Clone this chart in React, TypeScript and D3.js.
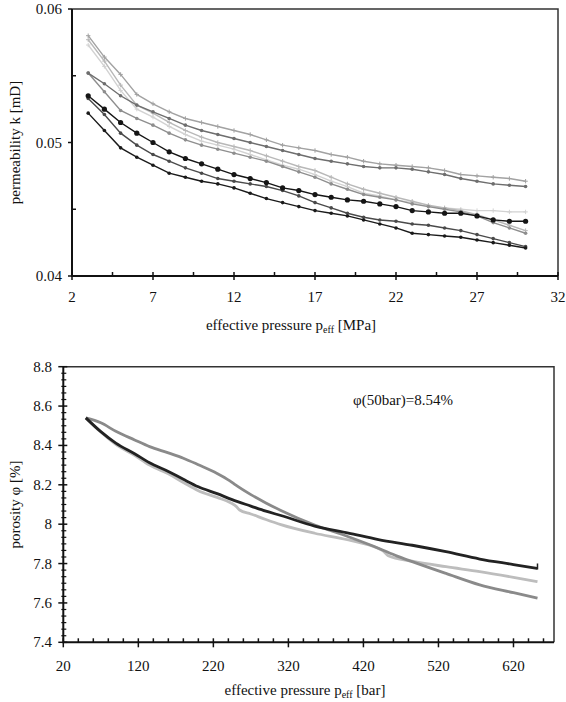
import React, { useRef, useEffect } from "react";
import * as d3 from "d3";

// top chart: permeability vs effective pressure [MPa]
const pressureMPa = [3, 4, 5, 6, 7, 8, 9, 10, 11, 12, 13, 14, 15, 16, 17, 18, 19, 20, 21, 22, 23, 24, 25, 26, 27, 28, 29, 30];
const kA = [0.0580, 0.0564, 0.0551, 0.0536, 0.0529, 0.0523, 0.0518, 0.0515, 0.0512, 0.0509, 0.0506, 0.0502, 0.0498, 0.0496, 0.0494, 0.0491, 0.0489, 0.0486, 0.0484, 0.0483, 0.0482, 0.0481, 0.0479, 0.0476, 0.0475, 0.0474, 0.0473, 0.0471];
const kB = [0.0552, 0.0544, 0.0535, 0.0528, 0.0523, 0.0518, 0.0513, 0.0509, 0.0506, 0.0503, 0.0500, 0.0497, 0.0494, 0.0491, 0.0488, 0.0486, 0.0484, 0.0482, 0.0481, 0.0481, 0.0480, 0.0478, 0.0476, 0.0473, 0.0471, 0.0469, 0.0468, 0.0467];
const kC = [0.0577, 0.0561, 0.0543, 0.0528, 0.0522, 0.0515, 0.0509, 0.0504, 0.0500, 0.0497, 0.0494, 0.0490, 0.0486, 0.0482, 0.0479, 0.0474, 0.0469, 0.0465, 0.0462, 0.0459, 0.0456, 0.0453, 0.0451, 0.0449, 0.0446, 0.0442, 0.0438, 0.0434];
const kD = [0.0552, 0.0538, 0.0524, 0.0518, 0.0513, 0.0507, 0.0502, 0.0498, 0.0495, 0.0492, 0.0489, 0.0486, 0.0482, 0.0478, 0.0474, 0.0469, 0.0465, 0.0461, 0.0459, 0.0457, 0.0454, 0.0452, 0.0450, 0.0448, 0.0445, 0.0440, 0.0436, 0.0432];
const kE = [0.0573, 0.0557, 0.0539, 0.0525, 0.0519, 0.0512, 0.0506, 0.0501, 0.0498, 0.0495, 0.0491, 0.0487, 0.0483, 0.0480, 0.0476, 0.0471, 0.0467, 0.0462, 0.0460, 0.0457, 0.0455, 0.0452, 0.0451, 0.0450, 0.0449, 0.0449, 0.0448, 0.0448];
const kF = [0.0535, 0.0525, 0.0515, 0.0507, 0.0500, 0.0493, 0.0488, 0.0484, 0.0480, 0.0476, 0.0473, 0.0470, 0.0466, 0.0464, 0.0461, 0.0459, 0.0457, 0.0456, 0.0454, 0.0452, 0.0449, 0.0448, 0.0447, 0.0447, 0.0445, 0.0442, 0.0441, 0.0441];
const kG = [0.0533, 0.0521, 0.0507, 0.0498, 0.0491, 0.0486, 0.0481, 0.0477, 0.0473, 0.0471, 0.0469, 0.0467, 0.0464, 0.0460, 0.0455, 0.0451, 0.0447, 0.0444, 0.0442, 0.0441, 0.0439, 0.0438, 0.0436, 0.0434, 0.0431, 0.0428, 0.0425, 0.0422];
const kH = [0.0522, 0.0509, 0.0496, 0.0489, 0.0483, 0.0477, 0.0474, 0.0471, 0.0469, 0.0466, 0.0462, 0.0458, 0.0455, 0.0452, 0.0449, 0.0447, 0.0445, 0.0442, 0.0439, 0.0436, 0.0432, 0.0431, 0.0430, 0.0429, 0.0427, 0.0425, 0.0423, 0.0421];
const xTicksMPa = [2, 7, 12, 17, 22, 27, 32];
const yTicksK = [0.04, 0.05, 0.06];

// bottom chart: porosity vs effective pressure [bar]
const pBlack = [50, 70, 90, 115, 135, 160, 180, 200, 225, 245, 270, 290, 310, 355, 400, 440, 485, 530, 575, 620, 652];
const phiBlack = [8.54, 8.47, 8.412, 8.358, 8.312, 8.268, 8.228, 8.19, 8.155, 8.125, 8.092, 8.066, 8.044, 7.99, 7.955, 7.922, 7.893, 7.86, 7.823, 7.795, 7.775];
const pGrey = [50, 70, 90, 115, 135, 160, 180, 200, 225, 242, 250, 270, 290, 310, 355, 400, 440, 465, 485, 530, 575, 620, 652];
const phiGrey = [8.54, 8.515, 8.472, 8.428, 8.394, 8.362, 8.335, 8.302, 8.258, 8.22, 8.198, 8.15, 8.108, 8.07, 7.996, 7.936, 7.878, 7.838, 7.81, 7.75, 7.692, 7.652, 7.624];
const pLight = [50, 70, 90, 115, 135, 160, 180, 200, 225, 245, 250, 255, 270, 290, 310, 355, 400, 440, 447, 453, 485, 530, 575, 620, 652];
const phiLight = [8.54, 8.468, 8.405, 8.35, 8.3, 8.256, 8.212, 8.17, 8.136, 8.105, 8.092, 8.072, 8.052, 8.024, 7.998, 7.954, 7.92, 7.876, 7.862, 7.84, 7.812, 7.784, 7.759, 7.73, 7.708];
const xTicksBar = [20, 120, 220, 320, 420, 520, 620];
const yTicksPhi = [7.4, 7.6, 7.8, 8, 8.2, 8.4, 8.6, 8.8];

const FONT = "'Liberation Serif', 'Times New Roman', serif";

const App = () => {
  const svgRef = useRef<SVGSVGElement>(null);

  useEffect(() => {
    const svg = d3.select(svgRef.current);
    svg.selectAll("*").remove();

    const text = (x: number, y: number, s: string, anchor = "middle") =>
      svg.append("text")
        .attr("x", x).attr("y", y)
        .attr("text-anchor", anchor)
        .attr("font-family", FONT)
        .attr("font-size", 15)
        .attr("fill", "#111")
        .text(s);

    // ---------- top chart ----------
    const x1 = d3.scaleLinear().domain([2, 32]).range([72, 558]);
    const y1 = d3.scaleLinear().domain([0.04, 0.06]).range([276, 9]);

    const series = [
      { v: kE, color: "#d2d2d2", marker: "plus" },
      { v: kC, color: "#b8b8b8", marker: "plus" },
      { v: kA, color: "#a2a2a2", marker: "plus" },
      { v: kD, color: "#8e8e8e", marker: "dot" },
      { v: kB, color: "#6e6e6e", marker: "dot" },
      { v: kG, color: "#4a4a4a", marker: "dot" },
      { v: kH, color: "#1a1a1a", marker: "dot" },
      { v: kF, color: "#151515", marker: "big" },
    ];

    const line1 = d3.line<number>()
      .x((d, i) => x1(pressureMPa[i]))
      .y(d => y1(d));

    series.forEach(s => {
      svg.append("path")
        .datum(s.v)
        .attr("fill", "none")
        .attr("stroke", s.color)
        .attr("stroke-width", 1.4)
        .attr("d", line1);
      const g = svg.append("g");
      s.v.forEach((d, i) => {
        const cx = x1(pressureMPa[i]);
        const cy = y1(d);
        if (s.marker === "plus") {
          g.append("path")
            .attr("d", `M${cx - 2.2},${cy}H${cx + 2.2}M${cx},${cy - 2.2}V${cy + 2.2}`)
            .attr("stroke", s.color).attr("stroke-width", 1);
        } else {
          g.append("circle")
            .attr("cx", cx).attr("cy", cy)
            .attr("r", s.marker === "big" ? 2.6 : 1.8)
            .attr("fill", s.color);
        }
      });
    });

    // frame
    svg.append("path")
      .attr("d", `M${x1(2)},${y1(0.06)}H${x1(32)}V${y1(0.04)}`)
      .attr("fill", "none").attr("stroke", "#333").attr("stroke-width", 1.5);
    svg.append("path")
      .attr("d", `M${x1(2)},${y1(0.06)}V${y1(0.04)}H${x1(32)}`)
      .attr("fill", "none").attr("stroke", "#111").attr("stroke-width", 2);

    xTicksMPa.forEach(t => {
      svg.append("line")
        .attr("x1", x1(t)).attr("x2", x1(t))
        .attr("y1", y1(0.04) - 4).attr("y2", y1(0.04) + 4)
        .attr("stroke", "#111").attr("stroke-width", 1.5);
      if (t < 32) {
        svg.append("line")
          .attr("x1", x1(t + 2.5)).attr("x2", x1(t + 2.5))
          .attr("y1", y1(0.04) - 4).attr("y2", y1(0.04))
          .attr("stroke", "#111").attr("stroke-width", 1.5);
      }
      text(x1(t), 302, String(t));
    });
    yTicksK.forEach(t => {
      svg.append("line")
        .attr("x1", x1(2) - 4).attr("x2", x1(2))
        .attr("y1", y1(t)).attr("y2", y1(t))
        .attr("stroke", "#111").attr("stroke-width", 1.5);
      if (t < 0.06) {
        svg.append("line")
          .attr("x1", x1(2)).attr("x2", x1(2) + 4)
          .attr("y1", y1(t + 0.005)).attr("y2", y1(t + 0.005))
          .attr("stroke", "#111").attr("stroke-width", 1.5);
      }
      text(62, y1(t) + 5, t.toFixed(2), "end");
    });

    const xt1 = text(291, 330, "effective pressure p");
    xt1.append("tspan").attr("font-size", 10).attr("dy", 3).text("eff");
    xt1.append("tspan").attr("dy", -3).text(" [MPa]");
    text(0, 0, "permeability k [mD]")
      .attr("transform", `translate(20,${(y1(0.04) + y1(0.06)) / 2}) rotate(-90)`);

    // ---------- bottom chart ----------
    const x2 = d3.scaleLinear().domain([20, 674]).range([63.3, 554]);
    const y2 = d3.scaleLinear().domain([7.4, 8.8]).range([642.3, 366.7]);

    const curves = [
      { p: pLight, v: phiLight, color: "#bdbdbd" },
      { p: pGrey, v: phiGrey, color: "#8a8a8a" },
      { p: pBlack, v: phiBlack, color: "#222" },
    ];
    curves.forEach(c => {
      const line2 = d3.line<number>()
        .x((d, i) => x2(c.p[i]))
        .y(d => y2(d))
        .curve(d3.curveMonotoneX);
      svg.append("path")
        .datum(c.v)
        .attr("fill", "none")
        .attr("stroke", c.color)
        .attr("stroke-width", 2.8)
        .attr("stroke-linejoin", "round")
        .attr("d", line2);
    });
    // end mark of black curve
    const lastX = x2(pBlack[pBlack.length - 1]);
    const lastY = y2(phiBlack[phiBlack.length - 1]);
    svg.append("line")
      .attr("x1", lastX).attr("x2", lastX)
      .attr("y1", lastY - 5).attr("y2", lastY + 1)
      .attr("stroke", "#222").attr("stroke-width", 1.5);

    svg.append("path")
      .attr("d", `M${x2(20)},${y2(8.8)}H${x2(674)}V${y2(7.4)}`)
      .attr("fill", "none").attr("stroke", "#333").attr("stroke-width", 1.5);
    svg.append("path")
      .attr("d", `M${x2(20)},${y2(8.8)}V${y2(7.4)}H${x2(674)}`)
      .attr("fill", "none").attr("stroke", "#111").attr("stroke-width", 2);

    xTicksBar.forEach(t => {
      svg.append("line")
        .attr("x1", x2(t)).attr("x2", x2(t))
        .attr("y1", y2(7.4) - 4).attr("y2", y2(7.4) + 5)
        .attr("stroke", "#111").attr("stroke-width", 1.5);
      [20, 40, 60, 80].forEach(m => {
        if (t + m < 674) {
          svg.append("line")
            .attr("x1", x2(t + m)).attr("x2", x2(t + m))
            .attr("y1", y2(7.4) - 4).attr("y2", y2(7.4))
            .attr("stroke", "#111").attr("stroke-width", 1.5);
        }
      });
      text(x2(t), 671, String(t));
    });
    yTicksPhi.forEach(t => {
      svg.append("line")
        .attr("x1", x2(20) - 5).attr("x2", x2(20) + 4)
        .attr("y1", y2(t)).attr("y2", y2(t))
        .attr("stroke", "#111").attr("stroke-width", 1.5);
      if (t < 8.8) {
        [1, 2, 3, 4, 5].forEach(m => {
          svg.append("line")
            .attr("x1", x2(20) - 2).attr("x2", x2(20) + 3)
            .attr("y1", y2(t + (m * 0.2) / 6)).attr("y2", y2(t + (m * 0.2) / 6))
            .attr("stroke", "#111").attr("stroke-width", 1.2);
        });
      }
      text(52, y2(t) + 5, String(t), "end");
    });

    const xt2 = text(305, 695, "effective pressure p");
    xt2.append("tspan").attr("font-size", 10).attr("dy", 3).text("eff");
    xt2.append("tspan").attr("dy", -3).text(" [bar]");
    text(0, 0, "porosity φ [%]")
      .attr("transform", `translate(20,${(y2(7.4) + y2(8.8)) / 2}) rotate(-90)`);
    text(353, 405, "φ(50bar)=8.54%", "start");
  }, []);

  return (
    <svg
      ref={svgRef}
      width={566}
      height={702}
      style={{ position: "absolute", left: 0, top: 0, background: "#fff" }}
    />
  );
};

export default App;
